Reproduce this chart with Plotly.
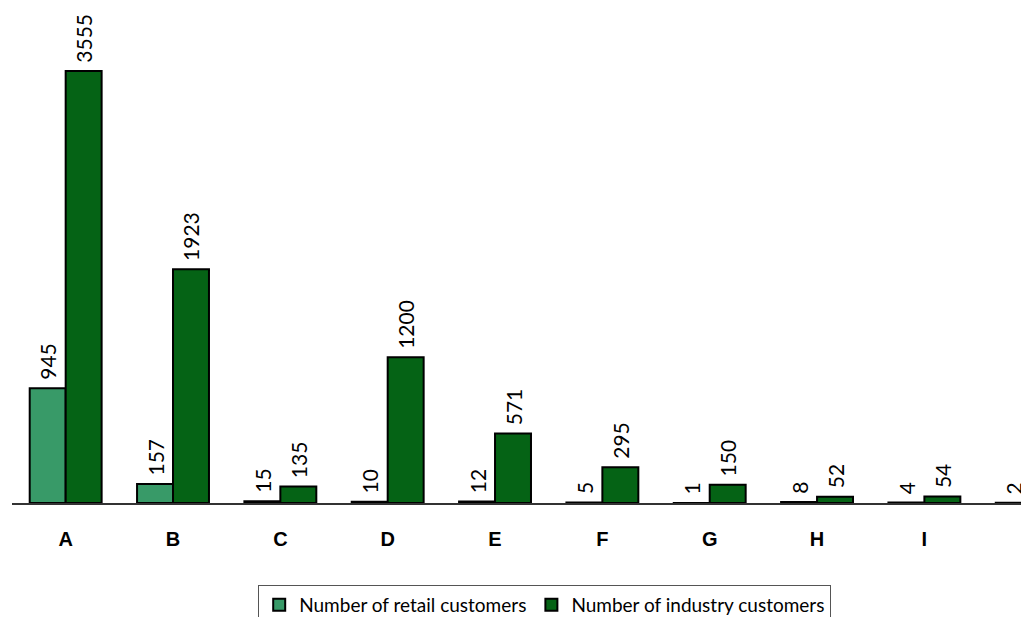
import plotly.graph_objects as go

categories = ["A", "B", "C", "D", "E", "F", "G", "H", "I", "J"]
retail = [945, 157, 15, 10, 12, 5, 1, 8, 4, 2]
industry = [3555, 1923, 135, 1200, 571, 295, 150, 52, 54, 20]

label_font = dict(family="Lato, 'Open Sans', sans-serif", size=21, color="black")
# a leading no-break space lifts each rotated value label a little off its bar
PAD = "\u00a0"

fig = go.Figure()
fig.add_trace(go.Bar(
    x=categories, y=retail, name="Number of retail customers",
    marker=dict(color="#389a68", line=dict(color="black", width=2)),
    text=[PAD + str(v) for v in retail], textposition="outside", textangle=-90,
    textfont=label_font, cliponaxis=False, constraintext="none",
))
fig.add_trace(go.Bar(
    x=categories, y=industry, name="Number of industry customers",
    marker=dict(color="#056315", line=dict(color="black", width=2)),
    text=[PAD + str(v) for v in industry], textposition="outside", textangle=-90,
    textfont=label_font, cliponaxis=True, constraintext="none",
))

fig.update_layout(
    width=1021, height=617,
    margin=dict(l=12, r=0, t=0, b=114, autoexpand=False),
    paper_bgcolor="white", plot_bgcolor="white",
    barmode="group", bargap=0.33, bargroupgap=0,
    showlegend=True,
    legend=dict(
        orientation="h", x=0.244, y=-0.163, xanchor="left", yanchor="top",
        font=dict(family="Lato, 'Open Sans', sans-serif", size=19, color="black"),
        bordercolor="#555555", borderwidth=1, bgcolor="white",
        itemwidth=30, traceorder="normal",
    ),
    xaxis=dict(
        range=[-0.5, 8.9], showline=True, linecolor="#333333", linewidth=1.5,
        showgrid=False, ticks="", ticklabelstandoff=17,
        tickfont=dict(family="Arial, 'Liberation Sans', sans-serif", size=20,
                      color="black", weight="bold"),
    ),
    yaxis=dict(range=[0, 4140], visible=False, showgrid=False),
)

fig.write_html("out.html")
